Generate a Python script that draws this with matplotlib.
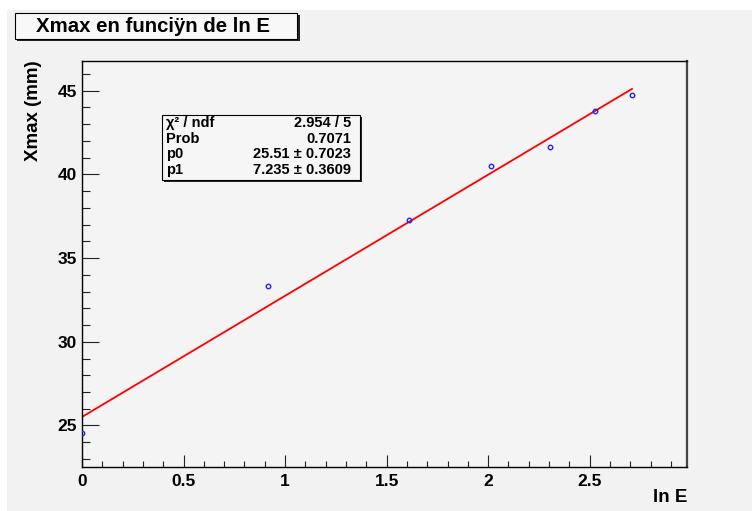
import matplotlib.pyplot as plt
import numpy as np
from matplotlib.patches import Rectangle
from matplotlib.ticker import MultipleLocator

plt.rcParams['font.family'] = ['Liberation Sans', 'DejaVu Sans']
plt.rcParams['font.weight'] = 'bold'

# ln E and measured Xmax
ln_e = [0.0, 0.916, 1.609, 2.015, 2.303, 2.526, 2.708]
xmax = [24.55, 33.35, 37.25, 40.5, 41.65, 43.8, 44.75]

# linear fit result
p0, p0_err = 25.51, 0.7023
p1, p1_err = 7.235, 0.3609
chi2, ndf, prob = 2.954, 5, 0.7071

W, H = 752, 511
fig = plt.figure(figsize=(W / 100, H / 100), dpi=100, facecolor='white')

# canvas pad
fig.patches.append(Rectangle((7 / W, 0), 1, (H - 10) / H, transform=fig.transFigure,
                             facecolor='#f2f2f2', edgecolor='none', zorder=-5))

ax = fig.add_axes([82 / W, (H - 467) / H, 605 / W, 406 / H])
ax.set_facecolor('#f4f4f4')

ax.plot(ln_e, xmax, 'o', ms=3.2, mfc='none', mec='#2020ff', mew=1.0, zorder=3)
xf = np.linspace(ln_e[0], ln_e[-1], 200)
ax.plot(xf, p0 + p1 * xf, color='#ff0000', lw=1.3, zorder=2)

ax.set_xlim(0, 2.979)
ax.set_ylim(22.52, 46.77)
ax.xaxis.set_major_locator(MultipleLocator(0.5))
ax.xaxis.set_minor_locator(MultipleLocator(0.1))
ax.yaxis.set_major_locator(MultipleLocator(5))
ax.yaxis.set_minor_locator(MultipleLocator(1))
ax.xaxis.set_major_formatter(plt.FuncFormatter(lambda v, p: f'{v:g}'))

ax.tick_params(axis='both', which='both', direction='in', colors='#222222',
               width=0.8, labelsize=12.5, labelcolor='black')
ax.tick_params(axis='x', which='major', length=8.6, pad=5)
ax.tick_params(axis='x', which='minor', length=4.3)
ax.tick_params(axis='y', which='major', length=12.2, pad=3.5)
ax.tick_params(axis='y', which='minor', length=6.1)
for s in ax.spines.values():
    s.set_linewidth(1.0)
    s.set_color('black')
ax.spines['right'].set_linewidth(1.6)
ax.spines['right'].set_color('#444444')

fig.text(33 / W, 1 - 60 / H, 'Xmax (mm)', rotation=90, ha='center', va='top',
         fontsize=13.5, fontweight='bold')
fig.text(687 / W, 1 - 497 / H, 'ln E', ha='right', va='center',
         fontsize=13.5, fontweight='bold')

# title box
fig.patches.append(Rectangle((17 / W, 1 - 41 / H), 283 / W, 26 / H,
                             transform=fig.transFigure, facecolor='#222222',
                             edgecolor='none', zorder=4))
fig.patches.append(Rectangle((15 / W, 1 - 39 / H), 282 / W, 26 / H,
                             transform=fig.transFigure, facecolor='#f8f8f8',
                             edgecolor='black', lw=0.8, zorder=5))
fig.text(153 / W, 1 - 26 / H, 'Xmax en funciÿn de ln E', ha='center', va='center',
         fontsize=14.7, fontweight='bold', zorder=6)

# fit statistics box
fig.patches.append(Rectangle((164 / W, 1 - 182 / H), 198 / W, 65 / H,
                             transform=fig.transFigure, facecolor='#222222',
                             edgecolor='none', zorder=4))
fig.patches.append(Rectangle((162 / W, 1 - 180 / H), 198 / W, 65 / H,
                             transform=fig.transFigure, facecolor='#f6f6f6',
                             edgecolor='black', lw=0.8, zorder=5))
rows = [('χ² / ndf', f'{chi2:.3f} / {ndf}'),
        ('Prob', f'{prob:.4f}'),
        ('p0', f'{p0:.2f} ± {p0_err:.4f}'),
        ('p1', f'{p1:.3f} ± {p1_err:.4f}')]
row_y = [123, 139, 154, 170]
for (lab, val), yp in zip(rows, row_y):
    yy = 1 - yp / H
    fig.text(166 / W, yy, lab, ha='left', va='center', fontsize=10.5,
             fontweight='bold', zorder=6)
    fig.text(351 / W, yy, val, ha='right', va='center', fontsize=10.5,
             fontweight='bold', zorder=6)

fig.savefig('out.png', dpi=100, facecolor=fig.get_facecolor())
plt.close(fig)
